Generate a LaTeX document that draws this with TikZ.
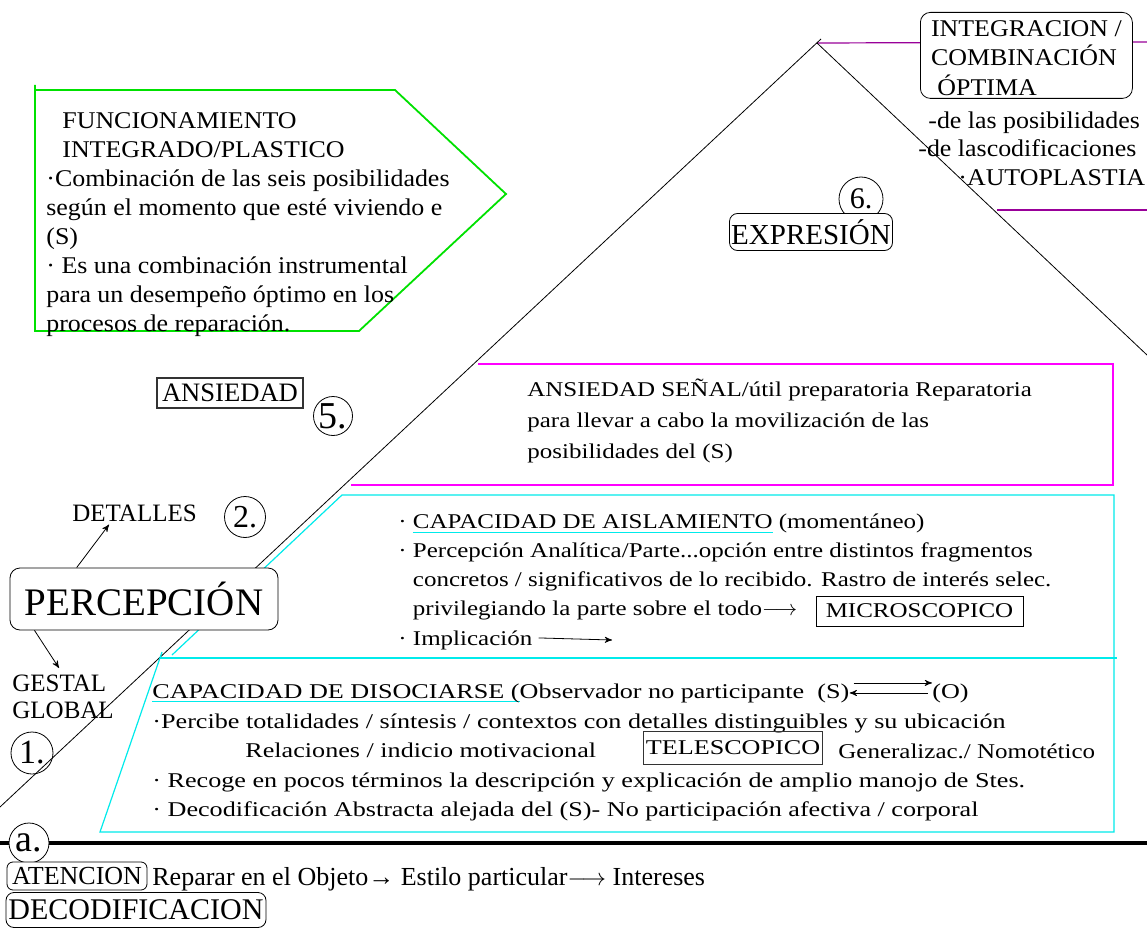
\documentclass[tikz,border=0pt]{standalone}
\usepackage{fontspec}
\setmainfont{Liberation Serif}
\newfontfamily\bodyfont[FakeStretch=1.19]{Liberation Serif}
\newfontfamily\lowfont[FakeStretch=1.245]{Liberation Serif}
\newfontfamily\midfont[FakeStretch=1.08]{Liberation Serif}
\usetikzlibrary{arrows,calc}
\definecolor{framegreen}{RGB}{0,225,0}
\definecolor{framecyan}{RGB}{0,235,235}
\definecolor{framemag}{RGB}{255,0,255}
\definecolor{framepurple}{RGB}{153,0,153}
\newsavebox\ulbox
\newcommand{\cyanul}[1]{\sbox\ulbox{#1}\rlap{\color{framecyan}\rule[-2.2pt]{\wd\ulbox}{0.6pt}}\usebox\ulbox}

\begin{document}
\begin{tikzpicture}[x=0.5pt, y=-0.5pt, >=stealth', thin,
   txt/.style={inner sep=0pt, anchor=north west, align=left},
   body/.style={txt, font={\bodyfont\fontsize{10.5}{#1}\selectfont}},
   low/.style={txt, font={\lowfont\fontsize{10.5}{#1}\selectfont}},
   mid/.style={txt, font={\midfont\fontsize{12}{#1}\selectfont}},
   num/.style={circle, draw, inner sep=0pt, minimum size=#1},
   tag/.style={draw, rounded corners=3pt, fill=white, inner sep=1pt}]

  \fill[white] (0,0) rectangle (1147,931);
  \useasboundingbox (0,0) rectangle (1147,931);

  % pyramid and frames
  \coordinate (apex) at (817,43);
  \draw[framepurple, line width=0.6pt] (apex) -- (1147,42);
  \draw[framepurple, line width=0.6pt] (997,210) -- (1147,210);
  \draw (0,807) -- (821,39);
  \draw (apex) -- (1147,355);
  \draw[framegreen, line width=0.9pt] (35,85) -- (35,331) -- (359,331) -- (506,194) -- (395,90) -- (35,90);
  \draw[framemag, line width=0.7pt] (478,364) -- (1113,364) -- (1113,485) -- (351,485);
  \draw[framecyan, line width=0.6pt] (172,655) -- (342,495) -- (1114,495) -- (1114,832) -- (100,832) -- (162,652);
  \draw[framecyan, line width=0.6pt] (160,658) -- (1117,658);
  \draw[line width=2.2pt] (0,843) -- (1147,843);

  % top right
  \node[tag, rounded corners=5pt, minimum width=106pt, minimum height=43pt, anchor=north west,
        align=left, font={\midfont\fontsize{12}{14.75}\selectfont}] (integ) at (920,12)
        {\strut INTEGRACION /\\COMBINACIÓN\\\ ÓPTIMA};
  \node[mid=14.25] (optima) at (918,108)
        {\strut\hspace*{5pt}-de las posibilidades\\-de lascodificaciones\\\hspace*{20pt}·AUTOPLASTIA};
  \node[num=22pt, font=\fontsize{15}{15}\selectfont] (six) at (861,199) {6.};
  \node[tag, rounded corners=4pt, minimum width=81.5pt, minimum height=18.5pt,
        inner sep=0.5pt, font=\fontsize{14.5}{14.5}\selectfont] (expr) at (811,232) {EXPRESIÓN};

  % green block
  \node[mid=14.5] (funcion) at (46,108)
        {\strut\hspace*{8pt}FUNCIONAMIENTO\\\hspace*{8pt}INTEGRADO/PLASTICO\\·Combinación de las seis posibilidades\\según el momento que esté viviendo e\\(S)\\· Es una combinación instrumental\\para un desempeño óptimo en los\\procesos de reparación.};

  % anxiety
  \node[draw=black!80, line width=0.7pt, minimum width=73pt, minimum height=15pt, inner sep=0.5pt,
        font=\fontsize{13.3}{13.3}\selectfont] (ansiedad) at (230,393) {ANSIEDAD};
  \node[num=19.5pt, font=\fontsize{19}{19}\selectfont] (five) at (333,416) {5.};
  \node[body=15.5] (senal) at (527,374)
        {\strut ANSIEDAD SEÑAL/útil preparatoria Reparatoria\\para llevar a cabo la movilización de las\\posibilidades del (S)};

  % isolation
  \node[body=14.5] (aisla) at (398,508)
        {\strut· \cyanul{CAPACIDAD DE AISLAMIENTO} (momentáneo)\\· Percepción Analítica/Parte...opción entre distintos fragmentos\\\hphantom{· }concretos / significativos de lo recibido. Rastro de interés selec.\\\hphantom{· }privilegiando la parte sobre el todo\(\longrightarrow\)};
  \node[draw, inner sep=1.5pt, minimum width=103.5pt, minimum height=15pt,
        font={\bodyfont\fontsize{10.5}{10.5}\selectfont}] (micro) at (919.5,611) {MICROSCOPICO};
  \node[txt, anchor=base west, font={\bodyfont\fontsize{10.5}{10.5}\selectfont}] (impl) at (398,645) {· Implicación};
  \coordinate (implend) at (612,640);
  \draw[->] ([xshift=3pt,yshift=1pt]impl.east) -- (implend);

  % perception
  \node[tag, rounded corners=5pt, minimum width=134pt, minimum height=31pt, inner sep=0pt,
        font=\fontsize{19.5}{19.5}\selectfont] (percep) at (144,599) {PERCEPCIÓN};
  \node[txt, anchor=base west, inner sep=1.5pt, font=\fontsize{12.5}{12.5}\selectfont] (detalles) at (69,521) {DETALLES};
  \node[num=20.5pt, font=\fontsize{16}{16}\selectfont] (two) at (245,517) {2.};
  \node[txt, inner sep=2pt, font=\fontsize{12.5}{13.5}\selectfont] (gestal) at (8,668) {\strut GESTAL\\GLOBAL};
  \node[num=21pt, font=\fontsize{17}{17}\selectfont] (one) at (32,753) {1.};
  \draw[->] (percep.155) -- ([xshift=20pt]detalles.south west);
  \draw[->] (percep.196) -- ([xshift=25.5pt]gestal.north west);

  % dissociation
  \node[txt, anchor=base west, font={\lowfont\fontsize{10.5}{10.5}\selectfont}] (disoc) at (152,698)
        {\cyanul{CAPACIDAD DE DISOCIARSE (}Observador no participante\ \ (S)};
  \node[txt, anchor=base west, font={\lowfont\fontsize{10.5}{10.5}\selectfont}] (objeto) at (932,698) {(O)};
  \draw[->] ([xshift=2pt,yshift=5pt]disoc.east) -- ([yshift=5pt]objeto.west);
  \draw[<-] ([yshift=0pt]disoc.east) -- ([xshift=-2pt]objeto.west);
  \node[low=14.75] (percibe) at (152,707)
        {\strut·Percibe totalidades / síntesis / contextos con detalles distinguibles y su ubicación\\\hspace*{46.5pt}Relaciones / indicio motivacional\\· Recoge en pocos términos la descripción y explicación de amplio manojo de Stes.\\· Decodificación Abstracta alejada del (S)- No participación afectiva / corporal};
  \node[draw=black!80, inner sep=1pt, minimum width=88.5pt, minimum height=16.5pt,
        font={\lowfont\fontsize{10.5}{10.5}\selectfont}] (tele) at (733,748) {TELESCOPICO};
  \node[txt, anchor=base west, font={\bodyfont\fontsize{10.5}{10.5}\selectfont}] (nomo) at (838,758) {Generalizac./ Nomotético};

  % bottom
  \node[num=20pt, fill=white, font=\fontsize{19}{19}\selectfont] (aa) at (29,843) {a.};
  \node[tag, minimum width=70pt, minimum height=14pt, inner sep=0.5pt,
        font=\fontsize{13}{13}\selectfont] (atencion) at (77,876) {ATENCION};
  \node[txt, anchor=base west, font=\fontsize{13}{13}\selectfont] (reparar) at (152,885)
        {Reparar en el Objeto→ Estilo particular\(\longrightarrow\) Intereses};
  \node[tag, rounded corners=4pt, minimum width=130pt, minimum height=17.5pt, inner sep=0.5pt,
        font=\fontsize{15}{15}\selectfont] (decod) at (136,910) {DECODIFICACION};
\end{tikzpicture}
\end{document}
